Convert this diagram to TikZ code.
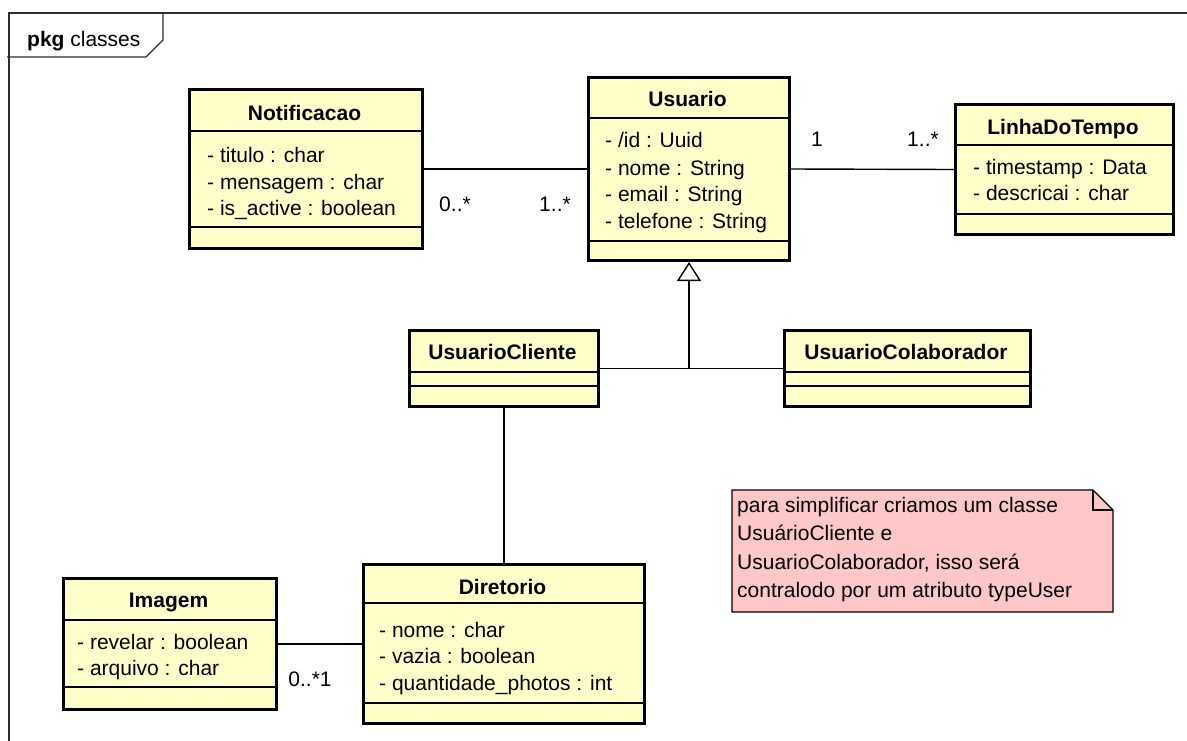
\documentclass[tikz,border=0pt]{standalone}
\usepackage{fontspec}
\setmainfont{Liberation Sans}
\usetikzlibrary{arrows.meta,calc}

\definecolor{classfill}{RGB}{255,255,202}
\definecolor{notefill}{RGB}{255,200,200}
\definecolor{framegray}{RGB}{45,45,45}

\tikzset{
  umlclass/.style={draw=black, line width=3pt, fill=classfill, inner sep=0pt, anchor=north west},
  compsep/.style={line width=1.4pt},
  classtitle/.style={font=\fontsize{21}{25}\selectfont\bfseries, inner sep=0pt, anchor=base},
  attr/.style={font=\fontsize{21}{25}\selectfont, inner sep=0pt, anchor=base west},
  mult/.style={font=\fontsize{21}{25}\selectfont, inner sep=0pt, anchor=base},
  notetext/.style={font=\fontsize{21}{25}\selectfont, inner sep=0pt, anchor=base west},
  assoc/.style={line width=1.4pt},
  framerule/.style={draw=framegray, line width=1.4pt},
}

% two compartment separators of a class box, offsets measured from its top edge
\newcommand{\umlseps}[3]{%
  \draw[compsep] ($(#1.north west)+(0,#2)$) -- ($(#1.north east)+(0,#2)$);
  \draw[compsep] ($(#1.north west)+(0,#3)$) -- ($(#1.north east)+(0,#3)$);
}

\begin{document}
\begin{tikzpicture}[x=1pt,y=-1pt]
  \useasboundingbox[fill=white] (0,0) rectangle (1187,740);

  % package frame with its name tab
  \draw[framerule] (9,760) -- (9,13) -- (1200,13);
  \draw[framerule] (7,57) -- (146,57) -- (163,40) -- (163,13);
  \node[attr] (pkg) at (27,46) {\textbf{pkg} classes};

  % Notificacao
  \node[umlclass, minimum width=233pt, minimum height=159pt] (notif) at (188,88) {};
  \umlseps{notif}{43}{139}
  \node[classtitle] (notifT) at (304.5,120) {Notificacao};
  \node[attr] (notifA1) at (207,162) {- titulo : char};
  \node[attr] (notifA2) at (207,189) {- mensagem : char};
  \node[attr] (notifA3) at (207,215) {- is\_active : boolean};

  % Usuario
  \node[umlclass, minimum width=201pt, minimum height=183pt] (usuario) at (587,76) {};
  \umlseps{usuario}{42}{165}
  \node[classtitle] (usuarioT) at (687.5,106) {Usuario};
  \node[attr] (usuarioA1) at (605,147) {- /id : Uuid};
  \node[attr] (usuarioA2) at (605,175) {- nome : String};
  \node[attr] (usuarioA3) at (605,201) {- email : String};
  \node[attr] (usuarioA4) at (605,228) {- telefone : String};

  % LinhaDoTempo
  \node[umlclass, minimum width=218pt, minimum height=130pt] (linha) at (954,103) {};
  \umlseps{linha}{42}{111}
  \node[classtitle] (linhaT) at (1063,134) {LinhaDoTempo};
  \node[attr] (linhaA1) at (973,174) {- timestamp : Data};
  \node[attr] (linhaA2) at (973,200) {- descricai : char};

  % UsuarioCliente
  \node[umlclass, minimum width=189pt, minimum height=76pt] (cliente) at (408,329) {};
  \umlseps{cliente}{43}{57}
  \node[classtitle] (clienteT) at (502.5,359) {UsuarioCliente};

  % UsuarioColaborador
  \node[umlclass, minimum width=246pt, minimum height=76pt] (colab) at (783,329) {};
  \umlseps{colab}{43}{57}
  \node[classtitle] (colabT) at (906,359) {UsuarioColaborador};

  % Diretorio
  \node[umlclass, minimum width=281pt, minimum height=159pt] (diretorio) at (362,563) {};
  \umlseps{diretorio}{40}{140}
  \node[classtitle] (diretorioT) at (502.5,594) {Diretorio};
  \node[attr] (diretorioA1) at (379,637) {- nome : char};
  \node[attr] (diretorioA2) at (379,663) {- vazia : boolean};
  \node[attr] (diretorioA3) at (379,690) {- quantidade\_photos : int};

  % Imagem
  \node[umlclass, minimum width=213pt, minimum height=131pt] (imagem) at (62,577) {};
  \umlseps{imagem}{43}{110}
  \node[classtitle] (imagemT) at (168.5,607) {Imagem};
  \node[attr] (imagemA1) at (77,649) {- revelar : boolean};
  \node[attr] (imagemA2) at (77,675) {- arquivo : char};

  % associations
  \draw[assoc] (notif.east) -- (usuario.west);
  \draw[assoc] (usuario.east) -- (linha.west);
  \draw[assoc] (cliente.south) -- (diretorio.north);
  \draw[assoc] (imagem.east) -- (diretorio.west);

  % generalisation tree
  \coordinate (gen) at (cliente.east -| usuario.south);
  \draw[assoc] (cliente.east) -- (colab.west);
  \draw[assoc, -{Triangle[open, width=24pt, length=19pt, line width=1.4pt]}] (gen) -- (usuario.south);

  % multiplicities
  \node[mult] (m1) at (455,211) {0..*};
  \node[mult] (m2) at (555,211) {1..*};
  \node[mult] (m3) at (817,146) {1};
  \node[mult] (m4) at (923,146) {1..*};
  \node[mult] (m5) at (310,686) {0..*1};

  % note with folded corner
  \draw[fill=notefill, line width=1.4pt] (732,490) -- (1093,490) -- (1113,510) -- (1113,612) -- (732,612) -- cycle;
  \draw[line width=1.4pt] (1093,490) -- (1093,510) -- (1113,510);
  \node[notetext] (note1) at (737,512) {para simplificar criamos um classe};
  \node[notetext] (note2) at (737,540) {UsuárioCliente e};
  \node[notetext] (note3) at (737,569) {UsuarioColaborador, isso será};
  \node[notetext] (note4) at (737,597) {contralodo por um atributo typeUser};
\end{tikzpicture}
\end{document}
